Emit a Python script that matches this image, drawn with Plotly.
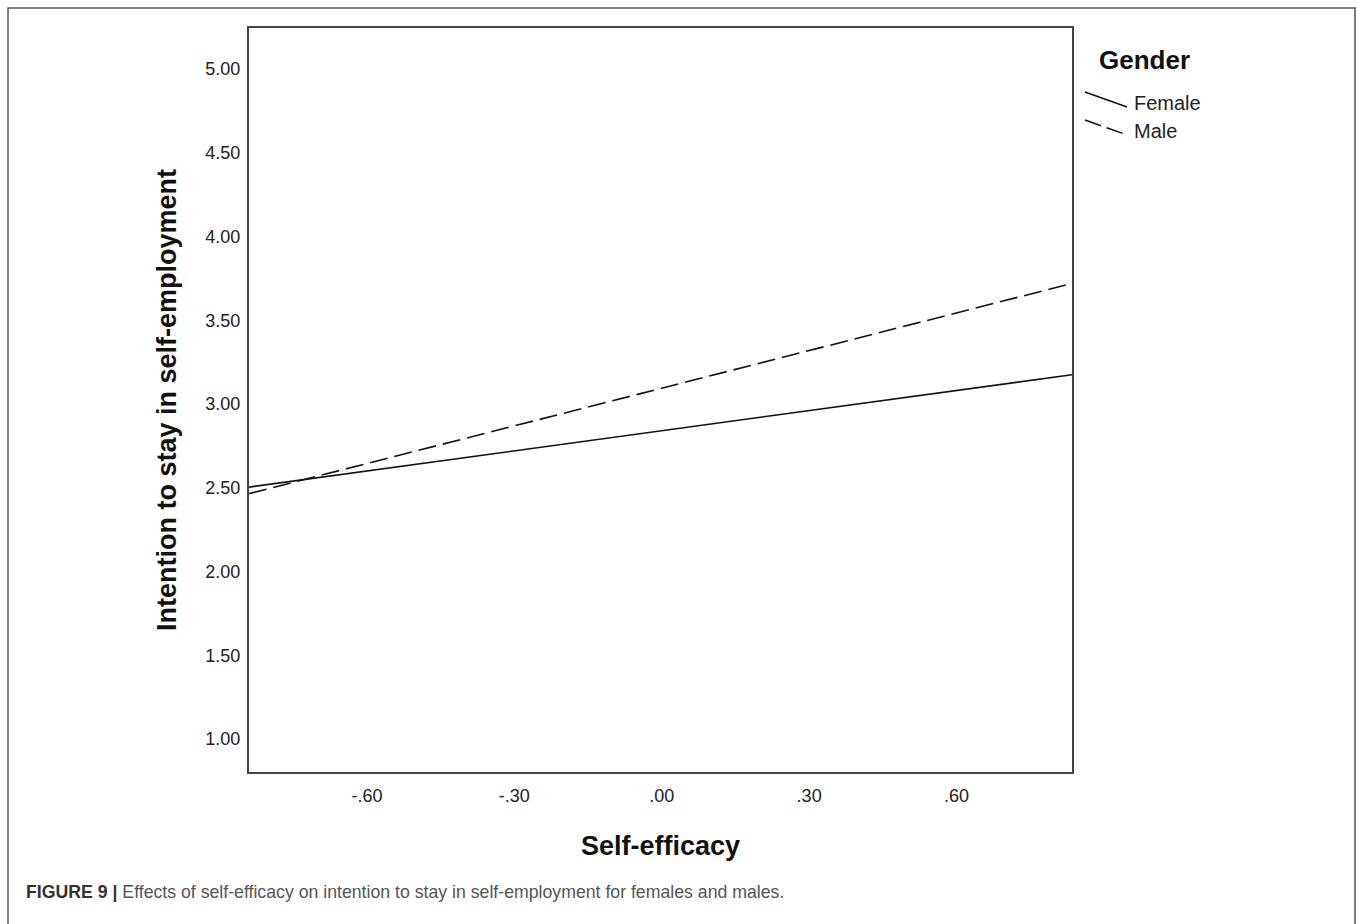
import plotly.graph_objects as go

# Data
self_efficacy = [-0.84, 0.835]
female = [2.504, 3.175]
male = [2.465, 3.72]
x_ticks = [-0.6, -0.3, 0.0, 0.3, 0.6]
x_tick_labels = ["-.60", "-.30", ".00", ".30", ".60"]
y_ticks = [1.0, 1.5, 2.0, 2.5, 3.0, 3.5, 4.0, 4.5, 5.0]
y_tick_labels = ["1.00", "1.50", "2.00", "2.50", "3.00", "3.50", "4.00", "4.50", "5.00"]

W, H = 1358, 924
L, R, T, B = 249, 1072, 28, 772
pw, ph = R - L, B - T

def px(x):
    return (x - L) / pw

def py(y):
    return (B - y) / ph

FONT = "Liberation Sans, Arial, sans-serif"

fig = go.Figure()
fig.add_trace(go.Scatter(x=self_efficacy, y=female, mode="lines", name="Female",
                         line=dict(color="#111111", width=1.6), showlegend=False))
fig.add_trace(go.Scatter(x=self_efficacy, y=male, mode="lines", name="Male",
                         line=dict(color="#111111", width=1.6, dash="18px,7px"), showlegend=False))

fig.update_layout(
    width=W, height=H,
    margin=dict(l=L, r=W - R, t=T, b=H - B),
    paper_bgcolor="white", plot_bgcolor="white",
    font=dict(family=FONT, color="#222222"),
    xaxis=dict(range=[-0.84, 0.835], tickvals=x_ticks, ticktext=x_tick_labels,
               showgrid=False, zeroline=False, showline=True, mirror=True,
               linecolor="#444444", linewidth=2, ticks="", ticklabelstandoff=6,
               tickfont=dict(size=18, color="#222222"),
               title=dict(text="<b>Self-efficacy</b>", font=dict(size=27, color="#111111"), standoff=32)),
    yaxis=dict(range=[0.803, 5.245], tickvals=y_ticks, ticktext=y_tick_labels,
               showgrid=False, zeroline=False, showline=True, mirror=True,
               linecolor="#444444", linewidth=2, ticks="", ticklabelstandoff=3,
               tickfont=dict(size=18, color="#222222"),
               title=dict(text="<b>Intention to stay in self-employment</b>", font=dict(size=27, color="#111111"), standoff=21)),
)

shapes = [
    # outer figure frame
    dict(type="rect", xref="paper", yref="paper", x0=px(8), x1=px(1355), y0=py(940), y1=py(8),
         line=dict(color="#555555", width=1.5), layer="below"),
    # legend glyphs
    dict(type="line", xref="paper", yref="paper", x0=px(1085), y0=py(92), x1=px(1127), y1=py(107),
         line=dict(color="#111111", width=1.4)),
    dict(type="line", xref="paper", yref="paper", x0=px(1085), y0=py(120), x1=px(1127), y1=py(135),
         line=dict(color="#111111", width=1.4, dash="17px,6px")),
]
fig.update_layout(shapes=shapes)

annotations = [
    dict(text="<b>Gender</b>", x=px(1097), y=py(60), xref="paper", yref="paper",
         xanchor="left", yanchor="middle", showarrow=False, font=dict(size=26, color="#111111")),
    dict(text="Female", x=px(1132), y=py(103), xref="paper", yref="paper",
         xanchor="left", yanchor="middle", showarrow=False, font=dict(size=20, color="#222222")),
    dict(text="Male", x=px(1132), y=py(131), xref="paper", yref="paper",
         xanchor="left", yanchor="middle", showarrow=False, font=dict(size=20, color="#222222")),
    dict(text="<b><span style='color:#333333'>FIGURE 9 |</span></b> Effects of self-efficacy on intention to stay in self-employment for females and males.",
         x=px(24), y=py(892), xref="paper", yref="paper",
         xanchor="left", yanchor="middle", showarrow=False, font=dict(size=17.7, color="#555555")),
]
fig.update_layout(annotations=annotations)

fig.write_html("out.html", config={"displayModeBar": False},
               post_script="document.body.style.margin='0px';")
